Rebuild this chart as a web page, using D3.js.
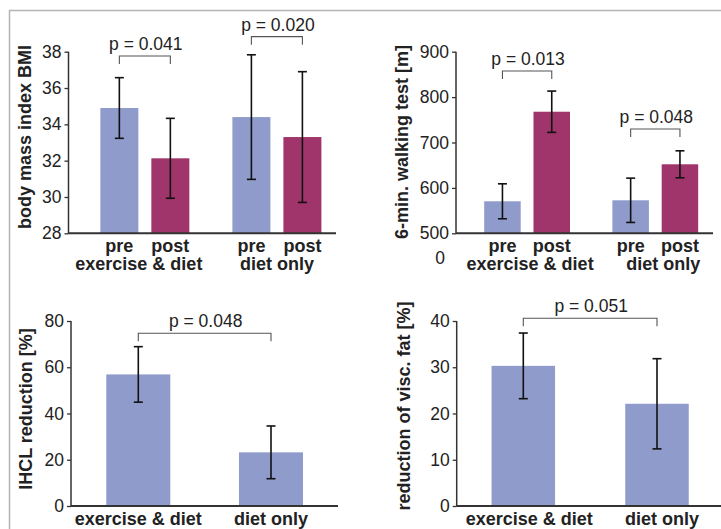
<!DOCTYPE html>
<html>
<head>
<meta charset="utf-8">
<script src="https://cdn.jsdelivr.net/npm/d3@7"></script>
<style>
  html, body { margin: 0; padding: 0; background: #fff; }
  svg { display: block; font-family: "Liberation Sans", Arial, sans-serif; }
</style>
</head>
<body>
<svg id="chart" width="721" height="529"></svg>
<script>
// ---------- data ----------
const groups = ["exercise & diet", "diet only"];
const phases = ["pre", "post"];

const bmiMean = [[34.9, 32.13], [34.4, 33.3]];
const bmiErr  = [[1.67, 2.2], [3.43, 3.6]];
const bmiTicks = [28, 30, 32, 34, 36, 38];
const bmiP = ["p = 0.041", "p = 0.020"];
const bmiBracket = [37.76, 38.83];

const walkMean = [[570.5, 767.8], [572.7, 652]];
const walkErr  = [[38.5, 45.5], [48.8, 29.7]];
const walkTicks = [500, 600, 700, 800, 900];
const walkP = ["p = 0.013", "p = 0.048"];
const walkBracket = [857.5, 729.7];

const ihclMean = [56.9, 23.2];
const ihclErr  = [12, 11.4];
const ihclTicks = [0, 20, 40, 60, 80];
const ihclP = "p = 0.048";
const ihclBracket = 74.7;

const fatMean = [30.3, 22.1];
const fatErr  = [7.1, 9.75];
const fatTicks = [0, 10, 20, 30, 40];
const fatP = "p = 0.051";
const fatBracket = 40.6;

// ---------- styles ----------
const BLUE = "#8f9bcb", MAG = "#a0356b";
const phaseColor = {pre: BLUE, post: MAG};
const svg = d3.select("#chart");

// border frame
svg.append("path").attr("d", "M9.5,529 V10.5 H721")
  .attr("fill", "none").attr("stroke", "#b4b4b4").attr("stroke-width", 1.5);

function pairBand(domain, c1, c2, bw) {
  const d = c2 - c1;
  const pi = 1 - bw / d;
  return d3.scaleBand().domain(domain).range([c1 - d / 2, c2 + d / 2])
    .paddingInner(pi).paddingOuter(pi / 2);
}

function drawAxes(g, y, ticks, xAxisX0, xAxisX1) {
  const ax = g.append("g").attr("transform", `translate(${xAxisX0},0)`)
    .call(d3.axisLeft(y).tickValues(ticks).tickSize(4).tickPadding(3).tickFormat(d3.format("d")));
  ax.select(".domain").remove();
  ax.selectAll(".tick line").attr("stroke", "#333").attr("stroke-width", 1.3);
  ax.selectAll(".tick text").attr("fill", "#222").style("font-size", "17.5px")
    .style("font-family", "'Liberation Sans', Arial, sans-serif");
  const [yb, yt] = y.range();
  g.append("line").attr("x1", xAxisX0).attr("x2", xAxisX0).attr("y1", yt).attr("y2", yb + 0.5)
    .attr("stroke", "#333").attr("stroke-width", 1.5);
  g.append("line").attr("x1", xAxisX0).attr("x2", xAxisX1).attr("y1", yb).attr("y2", yb)
    .attr("stroke", "#333").attr("stroke-width", 2);
}

function yTitle(g, text, cx, cy) {
  g.append("text").attr("transform", `translate(${cx},${cy}) rotate(-90)`)
    .attr("text-anchor", "middle").attr("dy", "0.35em")
    .style("font-size", "18px").style("font-weight", "bold").attr("fill", "#222").text(text);
}

function errBar(g, cx, y, m, e) {
  const cap = 4.5;
  g.append("line").attr("x1", cx).attr("x2", cx).attr("y1", y(m + e)).attr("y2", y(m - e))
    .attr("stroke", "#111").attr("stroke-width", 1.6);
  [m + e, m - e].forEach(v => g.append("line").attr("x1", cx - cap).attr("x2", cx + cap)
    .attr("y1", y(v)).attr("y2", y(v)).attr("stroke", "#111").attr("stroke-width", 1.6));
}

function bracket(g, xa, xb, yy, label) {
  g.append("path").attr("d", `M${xa},${yy + 8} V${yy} H${xb} V${yy + 8}`)
    .attr("fill", "none").attr("stroke", "#555").attr("stroke-width", 1.1);
  g.append("text").attr("x", (xa + xb) / 2 + 1).attr("y", yy - 6).attr("text-anchor", "middle")
    .style("font-size", "17.5px").attr("fill", "#222").text(label);
}

// ---------- grouped panels (pre/post) ----------
function groupedPanel(o) {
  const g = svg.append("g");
  const y = d3.scaleLinear().domain(o.domain).range([o.yBottom, o.yTop]);
  const outer = pairBand(groups, o.gc1, o.gc2, 0);
  const inner = pairBand(phases, -o.s / 2, o.s / 2, o.bw);
  groups.forEach((grp, gi) => {
    phases.forEach((ph, pi) => {
      const x = outer(grp) + inner(ph);
      g.append("rect").attr("x", x).attr("width", inner.bandwidth())
        .attr("y", y(o.mean[gi][pi])).attr("height", y(o.domain[0]) - y(o.mean[gi][pi]))
        .attr("fill", phaseColor[ph]);
      g.append("text").attr("x", x + inner.bandwidth() / 2).attr("y", o.yBottom + 19)
        .attr("text-anchor", "middle").style("font-size", "18px").style("font-weight", "bold")
        .attr("fill", "#222").text(ph);
    });
    g.append("text").attr("x", outer(grp) + o.labelDx[gi]).attr("y", o.yBottom + 37)
      .attr("text-anchor", "middle").style("font-size", "18px").style("font-weight", "bold")
      .attr("fill", "#222").text(grp);
  });
  drawAxes(g, y, o.ticks, o.axisX, o.axisEnd);
  groups.forEach((grp, gi) => {
    phases.forEach((ph, pi) => {
      const cx = outer(grp) + inner(ph) + inner.bandwidth() / 2;
      errBar(g, cx, y, o.mean[gi][pi], o.err[gi][pi]);
    });
    const xa = outer(grp) + inner("pre") + inner.bandwidth() / 2;
    const xb = outer(grp) + inner("post") + inner.bandwidth() / 2;
    bracket(g, xa, xb, y(o.bracket[gi]), o.p[gi]);
  });
  yTitle(g, o.title, o.titleX, o.titleY);
  return g;
}

groupedPanel({domain: [28, 38], yBottom: 233.3, yTop: 51.7, gc1: 144.85, gc2: 276.9, s: 51, bw: 38,
  mean: bmiMean, err: bmiErr, ticks: bmiTicks, bracket: bmiBracket, p: bmiP,
  axisX: 68.5, axisEnd: 336, title: "body mass index BMI", titleX: 25, titleY: 137, labelDx: [-6, 0]});

const g2 = groupedPanel({domain: [500, 900], yBottom: 233.3, yTop: 51.7, gc1: 527.1, gc2: 655.3, s: 49.3, bw: 36.5,
  mean: walkMean, err: walkErr, ticks: walkTicks, bracket: walkBracket, p: walkP,
  axisX: 456, axisEnd: 713, title: "6-min. walking test [m]", titleX: 401.5, titleY: 142, labelDx: [3, 8]});
g2.append("text").attr("x", 440).attr("y", 264).attr("text-anchor", "middle")
  .style("font-size", "17.5px").attr("fill", "#222").text("0");

// ---------- simple panels ----------
function simplePanel(o) {
  const g = svg.append("g");
  const y = d3.scaleLinear().domain(o.domain).range([o.yBottom, o.yTop]);
  const x = pairBand(groups, o.c1, o.c2, o.bw);
  groups.forEach((grp, i) => {
    g.append("rect").attr("x", x(grp)).attr("width", x.bandwidth())
      .attr("y", y(o.mean[i])).attr("height", y(o.domain[0]) - y(o.mean[i])).attr("fill", BLUE);
    g.append("text").attr("x", x(grp) + x.bandwidth() / 2 + o.labelDx[i]).attr("y", o.yBottom + 19)
      .attr("text-anchor", "middle").style("font-size", "18px").style("font-weight", "bold")
      .attr("fill", "#222").text(grp);
  });
  drawAxes(g, y, o.ticks, o.axisX, o.axisEnd);
  groups.forEach((grp, i) => errBar(g, x(grp) + x.bandwidth() / 2, y, o.mean[i], o.err[i]));
  bracket(g, x(groups[0]) + x.bandwidth() / 2, x(groups[1]) + x.bandwidth() / 2, y(o.bracket), o.p);
  yTitle(g, o.title, o.titleX, o.titleY);
}

simplePanel({domain: [0, 80], yBottom: 506, yTop: 321, c1: 138.3, c2: 271, bw: 64,
  mean: ihclMean, err: ihclErr, ticks: ihclTicks, bracket: ihclBracket, p: ihclP,
  axisX: 71, axisEnd: 338, title: "IHCL reduction [%]", titleX: 26, titleY: 409, labelDx: [0, 0]});

simplePanel({domain: [0, 40], yBottom: 506, yTop: 321, c1: 523.3, c2: 657, bw: 63.5,
  mean: fatMean, err: fatErr, ticks: fatTicks, bracket: fatBracket, p: fatP,
  axisX: 456.7, axisEnd: 721, title: "reduction of visc. fat [%]", titleX: 403.3, titleY: 406, labelDx: [6, 5]});
</script>
</body>
</html>
